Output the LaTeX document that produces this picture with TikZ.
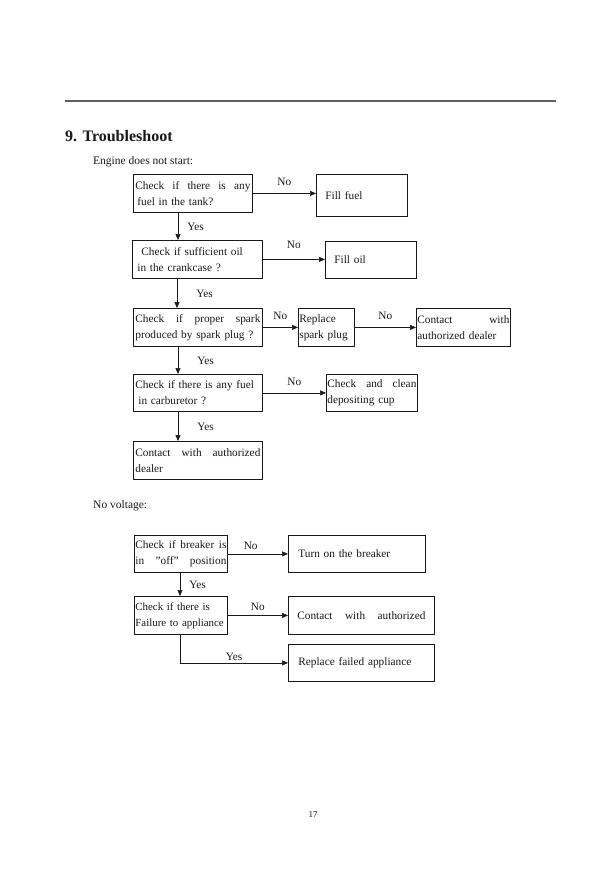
\documentclass[tikz,border=0pt]{standalone}
\usepackage{fontspec}
\setmainfont{Liberation Serif}
\usepackage{tikz}
\usetikzlibrary{arrows.meta,positioning,calc}
\definecolor{TsInk}{RGB}{25,25,25}
\definecolor{TsRule}{RGB}{95,95,95}
\newcommand{\jline}[1]{{\spaceskip=0.25em plus 1fil\hbox to \hsize{#1}}}
\tikzset{
  caixa/.style={draw=TsInk, line width=0.8pt, anchor=north west, align=left,
                inner xsep=2pt, inner ysep=1pt, text=TsInk,
                font=\fontsize{11.3}{16}\selectfont},
  seta/.style={-{Triangle[length=6pt,width=5pt]}, line width=0.6pt, TsInk},
  rotulo/.style={font=\fontsize{11.3}{13}\selectfont, text=TsInk, inner sep=1pt},
  titulo/.style={font=\fontsize{11.5}{14}\selectfont, text=TsInk, anchor=base west, inner sep=0pt},
}

\begin{document}
\begin{tikzpicture}[x=1pt, y=-1pt]
  \useasboundingbox[fill=white] (0,0) rectangle (613,892);

  % cabecalho
  \draw[TsRule, line width=1.3pt] (65,101) -- (556,101);
  \node[titulo, font=\fontsize{16}{19}\selectfont\bfseries] (tit) at (65,141) {9. Troubleshoot};
  \node[titulo] (eng) at (93,164) {Engine does not start:};

  % motor nao arranca
  \node[caixa, minimum width=119, minimum height=38, text width=115] (q1) at (133,174)
    {\jline{Check if there is any}\\\hspace*{2pt}fuel in the tank?};
  \node[caixa, minimum width=91, minimum height=42, text width=73, inner xsep=9pt] (a1) at (316,174)
    {Fill fuel};
  \node[caixa, minimum width=130, minimum height=38, text width=126] (q2) at (132,240)
    {\hspace*{7pt}Check if sufficient oil\\\hspace*{3pt}in the crankcase ?};
  \node[caixa, minimum width=91, minimum height=37, text width=73, inner xsep=9pt] (a2) at (325,241)
    {Fill oil};
  \node[caixa, minimum width=129, minimum height=38, text width=125] (q3) at (133,308)
    {\jline{Check if proper spark}\\produced by spark plug ?};
  \node[caixa, minimum width=56, minimum height=38, text width=54, inner xsep=1pt] (a3) at (298,308)
    {Replace\\spark plug};
  \node[caixa, minimum width=94, minimum height=38, text width=92, inner xsep=1pt] (a3b) at (416,308)
    {\jline{Contact with}\\authorized dealer};
  \node[caixa, minimum width=129, minimum height=37, text width=125] (q4) at (133,374)
    {Check if there is any fuel\\\hspace*{3pt}in carburetor ?};
  \node[caixa, minimum width=91, minimum height=37, text width=89, inner xsep=1pt] (a4) at (326,374)
    {\jline{Check and clean}\\depositing cup};
  \node[caixa, minimum width=129, minimum height=38, text width=125] (q5) at (133,441)
    {\jline{Contact with authorized}\\dealer};

  \draw[seta] (q1.east) -- (q1.east -| a1.west) node[rotulo, midway, above=6pt] {No};
  \draw[seta] (q2.east) -- (q2.east -| a2.west) node[rotulo, midway, above=9pt] {No};
  \draw[seta] (q3.east) -- (q3.east -| a3.west) node[rotulo, midway, above=6pt] {No};
  \draw[seta] (a3.east) -- (a3.east -| a3b.west) node[rotulo, midway, above=6pt] {No};
  \draw[seta] (q4.east) -- (q4.east -| a4.west) node[rotulo, midway, above=6pt] {No};

  \draw[seta] ([xshift=45pt]q1.south west) -- ([xshift=45pt]q1.south west |- q2.north)
    node[rotulo, midway, right=8pt] {Yes};
  \draw[seta] ([xshift=45pt]q2.south west) -- ([xshift=45pt]q2.south west |- q3.north)
    node[rotulo, midway, right=18pt] {Yes};
  \draw[seta] ([xshift=45pt]q3.south west) -- ([xshift=45pt]q3.south west |- q4.north)
    node[rotulo, midway, right=18pt] {Yes};
  \draw[seta] ([xshift=45pt]q4.south west) -- ([xshift=45pt]q4.south west |- q5.north)
    node[rotulo, midway, right=18pt] {Yes};

  % sem tensao
  \node[titulo] (volt) at (93,508) {No voltage:};

  \node[caixa, minimum width=93, minimum height=37, text width=91, inner xsep=1pt] (v1) at (134,535)
    {\jline{Check if breaker is}\\\jline{in "off" position}};
  \node[caixa, minimum width=137, minimum height=37, text width=117, inner xsep=10pt] (b1) at (288,535)
    {Turn on the breaker};
  \node[caixa, minimum width=93, minimum height=38, text width=91, inner xsep=1pt,
        font=\fontsize{10.9}{16}\selectfont] (v2) at (134,596)
    {Check if there is\\\mbox{Failure to appliance}};
  \node[caixa, minimum width=146, minimum height=38, text width=128, inner xsep=9pt] (b2) at (288,596)
    {\jline{Contact with authorized}};
  \node[caixa, minimum width=146, minimum height=37, text width=126, inner xsep=10pt] (b3) at (288,644)
    {Replace failed appliance};

  \draw[seta] (v1.east) -- (v1.east -| b1.west) node[rotulo, pos=0.38, above=3pt] {No};
  \draw[seta] (v2.east) -- (v2.east -| b2.west) node[rotulo, midway, above=3pt] {No};
  \draw[seta] ([xshift=46pt]v1.south west) -- ([xshift=46pt]v1.south west |- v2.north)
    node[rotulo, midway, right=8pt] {Yes};
  \draw[seta] ([xshift=46pt]v2.south west) |- (b3.west)
    node[rotulo, pos=0.75, above=1pt] {Yes};

  \node[rotulo, font=\fontsize{9}{11}\selectfont] (pag) at (313,815) {17};
\end{tikzpicture}
\end{document}
